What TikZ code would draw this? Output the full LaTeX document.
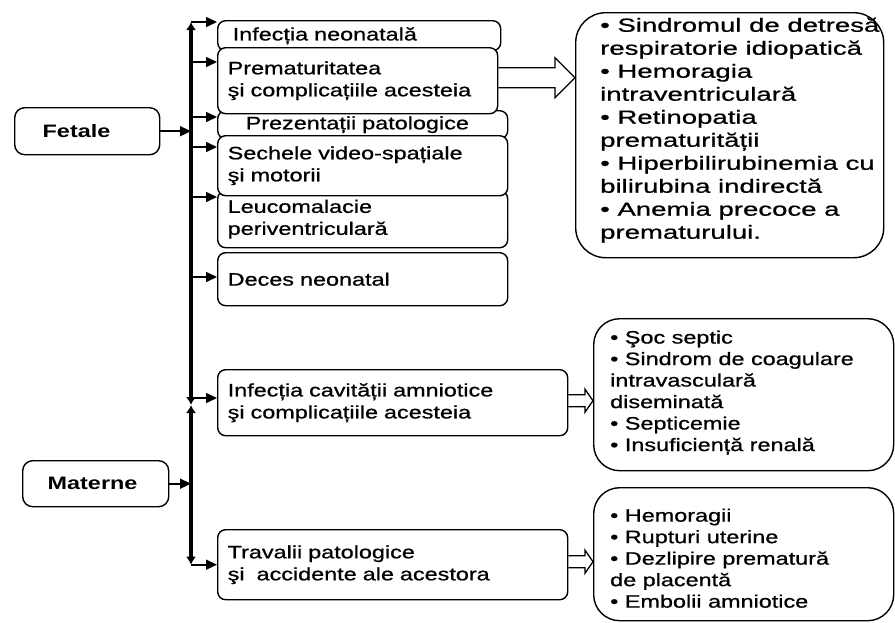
\documentclass[tikz,border=0pt]{standalone}
\usepackage{fontspec}
\setmainfont{Liberation Sans}[FakeStretch=1.3, UprightFeatures={FakeBold=0.8}]
\newfontfamily\widefont{Liberation Sans}[FakeStretch=1.45, FakeBold=0.8]
\usetikzlibrary{arrows.meta,calc}

% open block arrow between two points on one level
\newcommand{\hollowarrow}[5]{%
  \draw[hollow] ($(#1)+(0,#3)$) -- ($(#2)+(-#5,#3)$) -- ($(#2)+(-#5,#4)$) -- (#2)
    -- ($(#2)+(-#5,-#4)$) -- ($(#2)+(-#5,-#3)$) -- ($(#1)+(0,-#3)$);
}

\begin{document}
\begin{tikzpicture}[x=1pt,y=-1pt,
    box/.style={draw, line width=1.4pt, rounded corners=8pt, fill=white,
      anchor=north west, align=left, inner xsep=10pt, inner ysep=0pt,
      font=\fontsize{18}{22}\selectfont},
    bigbox/.style={box, rounded corners=26pt},
    listtext/.style={anchor=west, align=left, inner sep=0pt,
      font=\fontsize{18}{21.5}\selectfont},
    trunktip/.style={line width=3.5pt, -{Latex[length=8pt,width=10pt]}},
    branch/.style={line width=1.6pt, -{Triangle[length=11pt,width=10pt]}},
    hollow/.style={line width=1.3pt, line join=miter}]
    \useasboundingbox (0,0) rectangle (895,622);

    % causes
    \node[box, rounded corners=10pt, minimum width=145pt, minimum height=47pt,
      inner xsep=28pt, text width=89pt] (fet) at (14,107) {\bfseries Fetale};
    \node[box, rounded corners=10pt, minimum width=146pt, minimum height=46pt,
      inner xsep=25pt, text width=96pt] (mat) at (22,460) {\bfseries Materne};

    % consequences (drawn so that they overlap as in the original)
    \node[box, minimum width=283pt, minimum height=30pt, inner xsep=15pt, text width=253pt] (b1) at (217,20) {Infecția neonatală};
    \node[box, minimum width=290pt, minimum height=28pt, inner xsep=28pt, text width=234pt] (b3) at (217,110) {Prezentații patologice};
    \node[box, minimum width=290pt, minimum height=57pt, text width=270pt] (b5) at (217,190) {Leucomalacie\\periventriculară};
    \node[box, minimum width=280pt, minimum height=66pt, text width=260pt] (b2) at (217,47) {Prematuritatea\\şi complicațiile acesteia};
    \node[box, minimum width=290pt, minimum height=60pt, text width=270pt] (b4) at (217,135) {Sechele video-spațiale\\şi motorii};
    \node[box, minimum width=290pt, minimum height=53pt, text width=270pt] (b6) at (217,252) {Deces neonatal};
    \node[box, minimum width=350pt, minimum height=66pt, text width=330pt] (b7) at (217,369) {Infecția cavității amniotice\\şi complicațiile acesteia};
    \node[box, minimum width=350pt, minimum height=70pt, text width=330pt] (b8) at (217,529) {Travalii patologice\\şi~ accidente ale acestora};

    % complications
    \node[bigbox, rounded corners=30pt, minimum width=308pt, minimum height=245pt] (r1) at (575,12) {};
    \node[bigbox, minimum width=300pt, minimum height=152pt] (r2) at (593,318) {};
    \node[bigbox, minimum width=300pt, minimum height=133pt] (r3) at (593,487) {};
    \node[listtext, font=\widefont\fontsize{19}{23}\selectfont] (r1_txt) at ([xshift=25pt,yshift=5pt]r1.west)
      {• Sindromul de detresă\\respiratorie idiopatică\\• Hemoragia\\intraventriculară\\• Retinopatia\\prematurității\\• Hiperbilirubinemia cu\\bilirubina indirectă\\• Anemia precoce a\\prematurului.};
    \node[listtext] (r2_txt) at ([xshift=17pt,yshift=2pt]r2.west)
      {• Şoc septic\\• Sindrom de coagulare\\intravasculară\\diseminată\\• Septicemie\\• Insuficiență renală};
    \node[listtext] (r3_txt) at ([xshift=17pt,yshift=-4pt]r3.west)
      {• Hemoragii\\• Rupturi uterine\\• Dezlipire prematură\\de placentă\\• Embolii amniotice};

    % trunk
    \coordinate (top_c) at (191,22);
    \coordinate (mid_c) at (191,405);
    \coordinate (fet_j) at (fet.east -| top_c);
    \coordinate (mat_j) at (mat.east -| top_c);
    \coordinate (bot_c) at (b8.west -| top_c);
    \draw[trunktip] (fet_j) -- (top_c);
    \draw[trunktip] (fet_j) -- (mid_c);
    \draw[trunktip] (mat_j) -- (mid_c);
    \draw[trunktip] (mat_j) -- (bot_c);

    % branches
    \draw[branch] (fet.east) -- (fet_j);
    \draw[branch] (mat.east) -- (mat_j);
    \draw[branch] (top_c) -- (b1.west |- top_c);
    \foreach \n/\y in {2/62,3/117,4/147,5/197,6/277,7/398}{
        \coordinate (t\n) at (191,\y);
        \draw[branch] (t\n) -- (b\n.west |- t\n);
    }
    \draw[branch] (bot_c) -- (b8.west);

    % block arrows
    \coordinate (S1_pnt) at ([yshift=3pt]b2.east);
    \coordinate (E1_pnt) at (r1.west |- S1_pnt);
    \coordinate (S2_pnt) at ([yshift=2pt]b7.east);
    \coordinate (E2_pnt) at (r2.west |- S2_pnt);
    \coordinate (S3_pnt) at ([yshift=3pt]b8.east);
    \coordinate (E3_pnt) at (r3.west |- S3_pnt);
    \hollowarrow{S1_pnt}{E1_pnt}{10}{20}{20}
    \hollowarrow{S2_pnt}{E2_pnt}{6}{11.5}{8}
    \hollowarrow{S3_pnt}{E3_pnt}{6}{11.5}{8}
\end{tikzpicture}
\end{document}
